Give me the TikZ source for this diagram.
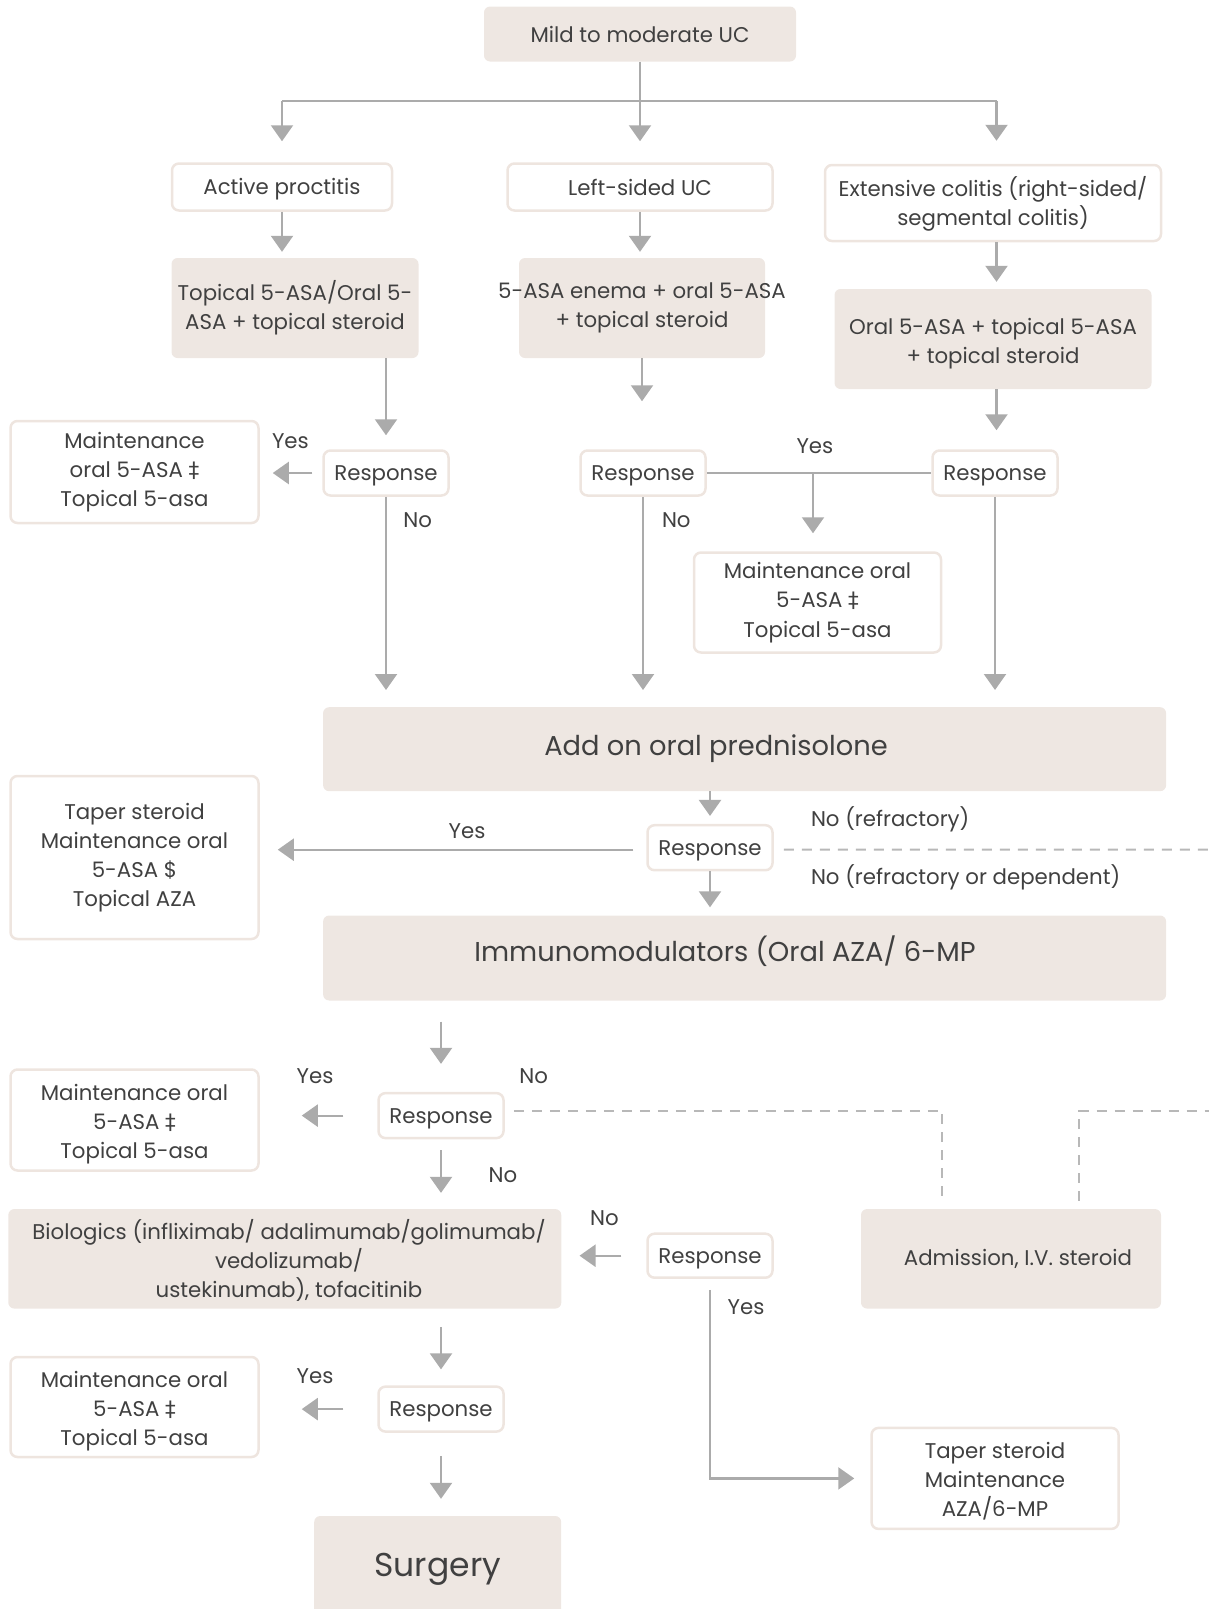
\documentclass[tikz,border=0pt]{standalone}
\usepackage{fontspec}
\setmainfont{Poppins}
\newfontfamily\symf{DejaVu Sans}
\usetikzlibrary{arrows.meta}
\definecolor{boxfill}{HTML}{EEE7E2}
\definecolor{boxline}{HTML}{EEE5DF}
\definecolor{arr}{HTML}{ABABAB}
\definecolor{dsh}{HTML}{B8B8B8}
\definecolor{txt}{HTML}{404040}
\newcommand{\dgr}{{\symf ‡}}
\newcommand{\tdn}[1]{\rule{0pt}{#1}}
\begin{document}
\begin{tikzpicture}[x=1pt,y=-1pt,
 every node/.style={text=txt, font=\fontsize{21.3}{29.2}\selectfont},
 fillbox/.style={fill=boxfill, draw=none, rounded corners=6pt, inner sep=0pt, align=center},
 whitebox/.style={fill=white, draw=boxline, line width=2.5pt, rounded corners=7pt, inner sep=0pt, align=center},
 resp/.style={whitebox, minimum width=125pt, minimum height=45pt},
 conn/.style={draw=arr, line width=2.2pt},
 arrow/.style={conn, -{Triangle[width=22pt,length=16pt]}},
 dashline/.style={draw=dsh, line width=2pt, dash pattern=on 10pt off 8pt},
 lbl/.style={inner sep=0pt},
 bigtxt/.style={inner sep=0pt, font=\fontsize{27.3}{32}\selectfont},
]
\useasboundingbox (0,0) rectangle (1209,1609);
\clip (0,0) rectangle (1209,1609);

% ---------- nodes ----------
\node[fillbox, minimum width=312pt, minimum height=55pt] (top) at (640,34) {Mild to moderate UC};
\coordinate (split) at (640,101);
\coordinate (sL) at (282,101);
\coordinate (sR) at (996.5,101);

\node[whitebox, minimum width=220pt, minimum height=47pt] (ap) at (282,187) {\tdn{19.8pt}Active proctitis};
\node[whitebox, minimum width=265pt, minimum height=47pt] (ls) at (640,187) {Left-sided UC};
\node[whitebox, minimum width=336pt, minimum height=76pt] (ec) at (993,203) {\tdn{21.5pt}Extensive colitis (right-sided/\\segmental colitis)};

\node[fillbox, minimum width=247pt, minimum height=100pt] (t1) at (295,308) {Topical 5-ASA/Oral 5-\\ASA + topical steroid};
\node[fillbox, minimum width=246pt, minimum height=100pt] (t2) at (642,308) {\makebox[0pt]{5-ASA enema + oral 5-ASA}\\\makebox[0pt]{+ topical steroid}};
\node[fillbox, minimum width=317pt, minimum height=100pt] (t3) at (993,339) {\tdn{26pt}Oral 5-ASA + topical 5-ASA\\+ topical steroid};

\node[resp] (r1) at (386,473) {\tdn{20.9pt}Response};
\node[resp] (r2) at (643,473) {\tdn{20.9pt}Response};
\node[resp] (r3) at (995,473) {\tdn{20.9pt}Response};

\node[whitebox, minimum width=248pt, minimum height=102pt] (m1) at (134.5,472) {Maintenance\\oral 5-ASA \dgr\\Topical 5-asa};
\node[whitebox, minimum width=247pt, minimum height=100pt] (m2) at (817.5,602.5) {Maintenance oral\\5-ASA \dgr\\Topical 5-asa};

\node[fillbox, minimum width=843pt, minimum height=84pt] (pred) at (744.6,749.2) {};
\node[bigtxt] (predt) at (716,749) {Add on oral prednisolone};

\node[resp] (r4) at (710,847.7) {\tdn{20.9pt}Response};
\node[whitebox, minimum width=248pt, minimum height=163pt] (t4) at (134.5,857.5) {Taper steroid\\Maintenance oral\\5-ASA \$\\Topical AZA};

\node[fillbox, minimum width=843pt, minimum height=85pt] (imm) at (744.6,958) {};
\node[bigtxt] (immt) at (725,951) {Immunomodulators (Oral AZA/ 6-MP};

\node[resp] (r5) at (441,1115.6) {\tdn{20.9pt}Response};
\node[whitebox, minimum width=248pt, minimum height=101pt] (m3) at (134.5,1120) {\tdn{24pt}Maintenance oral\\5-ASA \dgr\\Topical 5-asa};

\node[fillbox, minimum width=553pt, minimum height=99.5pt] (bio) at (284.8,1258.8) {};
\node[inner sep=0pt, align=center] (biot) at (289,1260.5) {Biologics (infliximab/ adalimumab/golimumab/\\vedolizumab/\\ustekinumab), tofacitinib};
\node[resp, minimum height=44pt] (r6) at (710,1255.7) {\tdn{20.9pt}Response};
\node[fillbox, minimum width=300pt, minimum height=99.5pt] (adm) at (1011,1258.8) {\hspace*{14pt}Admission, I.V. steroid};
\node[whitebox, minimum width=247pt, minimum height=101pt] (t5) at (995,1478.4) {\tdn{22pt}Taper steroid\\Maintenance\\AZA/6-MP};

\node[resp] (r7) at (441,1409.1) {\tdn{20.9pt}Response};
\node[whitebox, minimum width=248pt, minimum height=100pt] (m4) at (134.5,1407) {\tdn{24pt}Maintenance oral\\5-ASA \dgr\\Topical 5-asa};

\node[fillbox, minimum width=247pt, minimum height=130pt] (surg) at (437.7,1581) {};
\node[inner sep=0pt, font=\fontsize{33}{38}\selectfont] (surgt) at (437.7,1569) {Surgery};

\coordinate (edge1) at (1215,849.5);
\coordinate (edge2) at (1215,1110.5);

% ---------- connectors ----------
\draw[conn] (top.south) -- (split);
\draw[conn] (sL) -- (sR);
\draw[arrow, shorten >=21pt] (sL) -- (sL |- ap.north);
\draw[arrow, shorten >=21pt] (split) -- (split |- ls.north);
\draw[arrow, shorten >=23pt] (sR) -- (sR |- ec.north);

\draw[arrow, shorten >=6pt] (ap.south) -- (ap.south |- t1.north);
\draw[arrow, shorten >=6pt] (ls.south) -- (ls.south |- t2.north);
\draw[arrow, shorten >=7pt] (ec.south -| sR) -- (sR |- t3.north);

\draw[arrow, shorten >=14pt] (t1.south -| r1) -- (r1.north);
\draw[arrow, shorten >=48pt] (t2.south) -- (t2.south |- r2.north);
\draw[arrow, shorten >=19pt] (t3.south -| sR) -- (sR |- r3.north);

\draw[arrow, shorten <=10pt, shorten >=13pt] (r1.west) -- (m1.east |- r1.west);
\draw[conn] (r2.east) -- (r3.west);
\coordinate (yb) at (813,473);
\draw[arrow, shorten >=18pt] (yb) -- (yb |- m2.north);

\draw[arrow, shorten >=17pt] (r1.south) -- (r1.south |- pred.north);
\draw[arrow, shorten >=17pt] (r2.south) -- (r2.south |- pred.north);
\draw[arrow, shorten >=17pt] (r3.south) -- (r3.south |- pred.north);

\draw[arrow, shorten >=8pt] (pred.south -| r4) -- (r4.north);
\draw[arrow, shorten <=13pt, shorten >=18pt] ([yshift=-2pt]r4.west) -- ([yshift=-2pt]t4.east |- r4.west);
\draw[dashline, shorten <=10pt] ([yshift=-2pt]r4.east) -- (edge1);
\draw[arrow, shorten >=8pt] (r4.south) -- (r4.south |- imm.north);

\draw[arrow, shorten <=21pt, shorten >=28pt] (imm.south -| r5) -- (r5.north);
\draw[arrow, shorten <=34pt, shorten >=42pt] (r5.west) -- (m3.east |- r5.west);
\draw[dashline, shorten <=9pt, shorten >=8pt] ([yshift=5pt]r5.east) -| ([xshift=-69pt]adm.north);
\draw[dashline, shorten <=8pt] ([xshift=68pt]adm.north) |- (edge2);
\draw[arrow, shorten <=11pt, shorten >=16pt] (r5.south) -- (r5.south |- bio.north);

\draw[arrow, shorten <=25pt, shorten >=18pt] (r6.west) -- (bio.east |- r6.west);
\draw[arrow, shorten <=11pt, shorten >=16pt] (r6.south) |- (t5.west);

\draw[arrow, shorten <=18pt, shorten >=16pt] (bio.south -| r7) -- (r7.north);
\draw[arrow, shorten <=34pt, shorten >=42pt] (r7.west) -- (m4.east |- r7.west);
\draw[arrow, shorten <=23pt, shorten >=17pt] (r7.south) -- (r7.south |- surg.north);

% ---------- labels ----------
\node[lbl] (l1) at (290.4,441.3) {Yes};
\node[lbl] (l2) at (417.7,520.3) {No};
\node[lbl] (l3) at (814.9,446.4) {Yes};
\node[lbl] (l4) at (676.3,520.3) {No};
\node[lbl] (l5) at (467,831.3) {Yes};
\node[lbl, anchor=west] (l6) at (810.8,819) {No (refractory)};
\node[lbl, anchor=west] (l7) at (810.8,877.5) {No (refractory or dependent)};
\node[lbl] (l8) at (315,1076.6) {Yes};
\node[lbl] (l9) at (533.7,1076.6) {No};
\node[lbl] (l10) at (502.9,1175.1) {No};
\node[lbl] (l11) at (604.5,1218.2) {No};
\node[lbl] (l12) at (746.1,1307.5) {Yes};
\node[lbl] (l13) at (315,1376.3) {Yes};
\end{tikzpicture}
\end{document}
